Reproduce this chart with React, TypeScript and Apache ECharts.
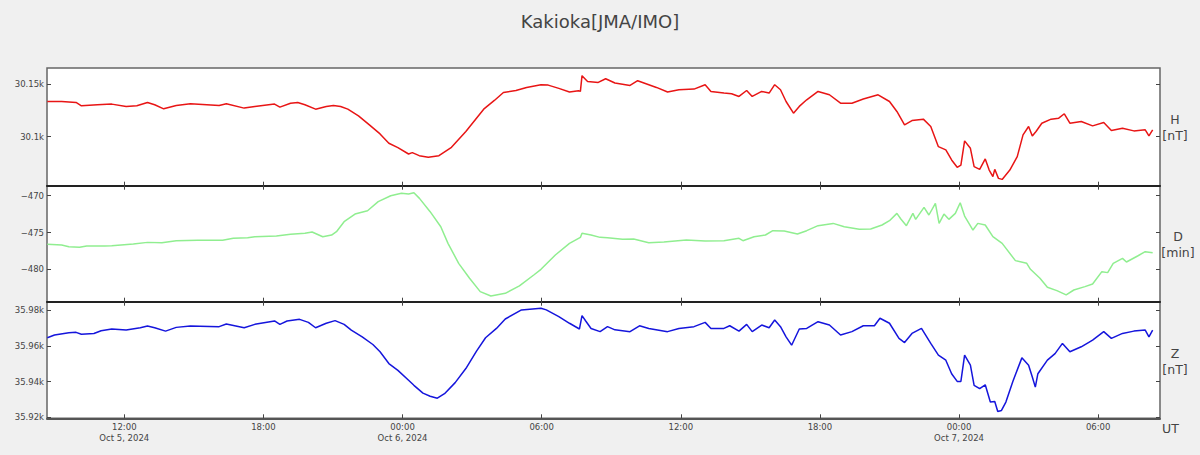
import React, { useEffect, useRef } from "react";
import * as echarts from "echarts";

// Time in hours since 2024-10-05 00:00 UT
const X_MIN = 8.6667;
const X_MAX = 56.6667;
const X_TICKS = [12, 18, 24, 30, 36, 42, 48, 54];

const H_T = [8.68, 9.3, 9.92, 10.15, 10.84, 11.46, 12.08, 12.54, 13.0, 13.31, 13.7, 14.24, 14.85, 16.09, 16.4, 17.17, 17.63, 18.48, 18.71, 19.17, 19.48, 19.79, 20.25, 20.71, 21.02, 21.33, 21.64, 22.1, 22.57, 23.03, 23.41, 23.8, 24.26, 24.42, 24.72, 25.11, 25.57, 26.11, 26.73, 27.5, 27.96, 28.35, 28.89, 29.35, 29.97, 30.28, 30.74, 31.2, 31.59, 31.67, 31.74, 31.98, 32.44, 32.76, 33.16, 33.81, 34.14, 34.62, 34.95, 35.43, 35.92, 36.57, 37.05, 37.3, 37.86, 38.19, 38.51, 38.84, 39.08, 39.49, 39.81, 40.05, 40.3, 40.54, 40.86, 41.11, 41.43, 41.92, 42.41, 42.89, 43.38, 43.87, 44.51, 45.0, 45.32, 45.65, 45.97, 46.46, 46.78, 47.11, 47.43, 47.68, 47.92, 48.08, 48.24, 48.49, 48.65, 48.89, 49.13, 49.3, 49.46, 49.54, 49.7, 49.86, 50.19, 50.51, 50.76, 51.0, 51.16, 51.32, 51.57, 51.97, 52.3, 52.54, 52.78, 53.27, 53.76, 54.24, 54.57, 55.05, 55.54, 56.03, 56.19, 56.35];
const H_V = [30133.4, 30133.4, 30132.5, 30129.3, 30130.3, 30130.9, 30128.7, 30129.3, 30132.5, 30130.3, 30126.4, 30129.6, 30131.2, 30129.6, 30131.2, 30127.1, 30128.7, 30130.9, 30128.0, 30131.8, 30132.5, 30130.3, 30126.1, 30128.7, 30129.6, 30128.7, 30126.1, 30119.7, 30111.1, 30102.5, 30093.6, 30089.5, 30083.4, 30084.7, 30081.8, 30080.2, 30081.8, 30089.8, 30104.8, 30126.1, 30134.4, 30142.0, 30143.9, 30146.8, 30149.4, 30149.0, 30145.9, 30142.4, 30143.6, 30143.0, 30158.0, 30152.5, 30151.6, 30155.1, 30151.0, 30148.7, 30153.2, 30149.4, 30146.8, 30142.4, 30144.6, 30145.2, 30149.4, 30143.0, 30141.4, 30140.8, 30138.2, 30143.9, 30138.2, 30143.0, 30141.4, 30149.4, 30144.6, 30133.4, 30122.3, 30128.7, 30135.0, 30143.0, 30139.8, 30131.8, 30131.8, 30135.7, 30139.8, 30133.4, 30123.9, 30111.1, 30115.2, 30116.6, 30109.6, 30090.4, 30087.3, 30077.7, 30070.7, 30072.9, 30095.9, 30088.8, 30071.3, 30068.8, 30078.7, 30068.1, 30061.8, 30068.8, 30060.2, 30059.2, 30068.1, 30080.9, 30101.6, 30109.6, 30100.6, 30104.8, 30112.7, 30116.6, 30117.5, 30121.7, 30112.7, 30114.3, 30110.2, 30113.4, 30105.7, 30107.9, 30105.4, 30106.4, 30100.6, 30106.4];

const D_T = [8.68, 9.3, 9.61, 10.07, 10.38, 11.15, 11.46, 12.39, 13.0, 13.62, 14.24, 15.16, 16.24, 16.7, 17.32, 17.63, 18.56, 19.17, 19.79, 20.1, 20.56, 20.94, 21.15, 21.48, 21.95, 22.49, 22.95, 23.49, 23.95, 24.26, 24.49, 24.73, 25.19, 25.65, 25.96, 26.42, 26.89, 27.35, 27.81, 28.43, 29.04, 29.66, 29.97, 30.59, 31.2, 31.67, 31.74, 32.13, 32.52, 32.84, 33.49, 33.97, 34.62, 35.27, 36.24, 37.05, 37.86, 38.51, 38.68, 39.16, 39.65, 39.97, 40.46, 41.03, 41.43, 41.92, 42.57, 43.05, 43.7, 44.19, 44.68, 45.0, 45.32, 45.49, 45.73, 46.01, 46.13, 46.49, 46.7, 46.98, 47.14, 47.35, 47.56, 47.84, 48.05, 48.24, 48.6, 48.81, 49.13, 49.46, 49.86, 50.43, 50.92, 51.08, 51.49, 51.81, 52.22, 52.62, 52.95, 53.43, 53.76, 54.16, 54.41, 54.65, 55.05, 55.22, 55.7, 56.03, 56.35];
const D_V = [-476.61, -476.7, -476.92, -477.01, -476.83, -476.83, -476.79, -476.56, -476.34, -476.38, -476.11, -476.06, -476.06, -475.79, -475.7, -475.57, -475.48, -475.25, -475.11, -474.93, -475.57, -475.34, -474.89, -473.53, -472.49, -472.04, -470.81, -470.0, -469.68, -469.77, -469.59, -470.36, -472.17, -474.21, -476.47, -479.19, -481.22, -483.03, -483.62, -483.26, -482.26, -480.77, -480.0, -478.05, -476.47, -475.66, -475.11, -475.34, -475.66, -475.7, -475.93, -475.88, -476.38, -476.29, -476.02, -476.15, -476.11, -475.79, -476.11, -475.57, -475.34, -474.75, -474.79, -475.2, -474.75, -474.07, -473.76, -474.21, -474.57, -474.52, -473.98, -473.39, -472.4, -473.16, -474.07, -472.4, -473.21, -471.58, -472.62, -471.04, -473.76, -472.49, -473.21, -472.4, -470.95, -472.76, -474.66, -473.76, -473.98, -475.57, -476.47, -478.82, -479.19, -480.0, -481.22, -482.44, -482.89, -483.48, -482.81, -482.35, -481.99, -480.32, -480.45, -479.19, -478.51, -479.01, -478.19, -477.6, -477.74];

const Z_T = [8.68, 8.99, 9.61, 9.92, 10.15, 10.69, 11.0, 11.46, 12.08, 12.69, 13.0, 13.31, 13.78, 14.24, 14.85, 16.09, 16.4, 17.17, 17.63, 18.48, 18.71, 19.02, 19.56, 19.94, 20.25, 20.71, 21.09, 21.48, 21.79, 22.26, 22.72, 23.03, 23.41, 23.8, 24.26, 24.49, 24.88, 25.19, 25.5, 25.81, 26.27, 26.73, 27.19, 27.58, 28.05, 28.43, 29.13, 29.97, 30.2, 30.74, 31.2, 31.63, 31.74, 31.9, 32.13, 32.52, 32.84, 33.16, 33.81, 34.22, 34.62, 35.43, 35.92, 36.57, 37.05, 37.3, 37.86, 38.11, 38.51, 38.84, 39.08, 39.49, 39.81, 40.05, 40.3, 40.54, 40.78, 41.11, 41.43, 41.92, 42.41, 42.89, 43.38, 43.87, 44.35, 44.59, 45.0, 45.41, 45.65, 45.97, 46.38, 46.78, 47.11, 47.43, 47.68, 47.92, 48.08, 48.24, 48.49, 48.65, 48.89, 49.13, 49.35, 49.54, 49.67, 49.83, 50.02, 50.32, 50.71, 51.0, 51.16, 51.29, 51.4, 51.81, 52.14, 52.46, 52.78, 53.27, 53.76, 54.24, 54.57, 55.05, 55.54, 56.03, 56.19, 56.35];
const Z_V = [35964.6, 35966.1, 35967.4, 35967.6, 35966.5, 35967.0, 35968.5, 35969.5, 35968.9, 35970.2, 35971.2, 35970.2, 35968.3, 35970.4, 35971.2, 35970.8, 35972.3, 35970.2, 35972.1, 35974.0, 35972.1, 35974.0, 35974.9, 35973.2, 35970.2, 35972.7, 35974.2, 35972.1, 35968.9, 35965.1, 35960.8, 35956.7, 35950.1, 35946.3, 35940.7, 35937.9, 35933.5, 35931.8, 35930.7, 35933.2, 35939.4, 35947.3, 35957.1, 35964.6, 35969.8, 35975.1, 35980.2, 35981.1, 35980.2, 35976.4, 35972.7, 35969.5, 35977.0, 35974.0, 35969.8, 35968.0, 35970.8, 35969.0, 35968.0, 35971.3, 35969.8, 35968.0, 35969.8, 35970.8, 35973.2, 35969.8, 35969.8, 35971.3, 35968.3, 35972.1, 35968.0, 35971.7, 35970.2, 35974.5, 35970.8, 35965.1, 35960.4, 35969.5, 35969.8, 35973.6, 35971.7, 35966.1, 35968.0, 35971.3, 35971.3, 35975.5, 35972.7, 35964.2, 35961.9, 35967.0, 35969.8, 35961.4, 35954.8, 35952.0, 35944.4, 35940.1, 35940.1, 35954.8, 35949.2, 35937.9, 35936.0, 35938.2, 35928.5, 35928.8, 35923.2, 35923.8, 35928.5, 35940.1, 35953.3, 35949.2, 35942.6, 35936.9, 35944.4, 35952.0, 35955.7, 35961.4, 35956.7, 35959.5, 35963.3, 35968.0, 35964.2, 35967.0, 35968.3, 35968.9, 35965.1, 35968.9];

const H_TICKS = [30100, 30150];
const D_TICKS = [-480, -475, -470];
const Z_TICKS = [35920, 35940, 35960, 35980];
const H_RANGE = [30053.2, 30165.3];
const D_RANGE = [-484.4, -468.64];
const Z_RANGE = [35919.4, 35984.8];

const FONT = '"DejaVu Sans", Verdana, sans-serif';
const TXT = "#444";

function zip(t: number[], v: number[]) {
  return t.map((x, i) => [x, v[i]]);
}

function xLabel(v: number) {
  const h = Math.round(v);
  const hh = ((h % 24) + 24) % 24;
  const s = (hh < 10 ? "0" : "") + hh + ":00";
  if (hh === 0 || h === X_TICKS[0]) {
    const day = 5 + Math.floor(h / 24);
    return s + "\nOct " + day + ", 2024";
  }
  return s;
}

export default function App() {
  const ref = useRef<HTMLDivElement>(null);
  useEffect(() => {
    if (!ref.current) return;
    const chart = echarts.init(ref.current, undefined, { renderer: "svg" });
    const grids = [
      { top: 68, height: 117.7 },
      { top: 185.7, height: 116 },
      { top: 301.7, height: 116.6 },
    ];
    const xAxes: any[] = [];
    grids.forEach((_, i) => {
      xAxes.push({
        type: "value",
        gridIndex: i,
        min: X_MIN,
        max: X_MAX,
        position: "bottom",
        axisLine: { show: true, lineStyle: { color: i < 2 ? "#222" : "#555", width: 2 } },
        axisTick: { show: true, inside: true, length: 4, customValues: X_TICKS, lineStyle: { color: "#444" } },
        axisLabel: {
          show: i === 2,
          customValues: X_TICKS,
          formatter: xLabel,
          fontSize: 8.5,
          lineHeight: 11,
          margin: 3,
          color: TXT,
          fontFamily: FONT,
        },
        splitLine: { show: false },
      });
    });
    [1, 2].forEach((i) => {
      xAxes.push({
        type: "value",
        gridIndex: i,
        min: X_MIN,
        max: X_MAX,
        position: "top",
        axisLine: { show: false },
        axisTick: { show: true, inside: true, length: 4, customValues: X_TICKS, lineStyle: { color: "#444" } },
        axisLabel: { show: false },
        splitLine: { show: false },
      });
    });
    const ranges = [H_RANGE, D_RANGE, Z_RANGE];
    const ticks = [H_TICKS, D_TICKS, Z_TICKS];
    const fmts = [
      (v: number) => v / 1000 + "k",
      (v: number) => (v < 0 ? "\u2212" + Math.abs(v) : String(v)),
      (v: number) => v / 1000 + "k",
    ];
    const yAxes: any[] = [];
    grids.forEach((_, i) => {
      yAxes.push({
        type: "value",
        gridIndex: i,
        min: ranges[i][0],
        max: ranges[i][1],
        position: "left",
        axisLine: { show: false },
        axisTick: { show: true, inside: true, length: 4, customValues: ticks[i], lineStyle: { color: "#444" } },
        axisLabel: {
          customValues: ticks[i],
          formatter: fmts[i],
          fontSize: 8.5,
          margin: 3,
          color: TXT,
          fontFamily: FONT,
        },
        splitLine: { show: false },
      });
      yAxes.push({
        type: "value",
        gridIndex: i,
        min: ranges[i][0],
        max: ranges[i][1],
        position: "right",
        axisLine: { show: false },
        axisTick: { show: true, inside: true, length: 4, customValues: ticks[i], lineStyle: { color: "#444" } },
        axisLabel: { show: false },
        splitLine: { show: false },
      });
    });
    const mk = (name: string, data: number[][], i: number, color: string) => ({
      name,
      type: "line",
      xAxisIndex: i,
      yAxisIndex: i * 2,
      data,
      showSymbol: false,
      symbol: "none",
      lineStyle: { color, width: 1.5 },
      z: 3,
    });
    const option: any = {
      animation: false,
      backgroundColor: "#f0f0f0",
      title: {
        text: "Kakioka[JMA/IMO]",
        left: "center",
        top: 7,
        textStyle: { fontSize: 18, fontWeight: "normal", color: TXT, fontFamily: FONT },
      },
      grid: grids.map((g) => ({
        left: 47,
        right: 40,
        top: g.top,
        height: g.height,
        show: true,
        backgroundColor: "#ffffff",
        borderColor: "#666",
        borderWidth: 1.5,
      })),
      xAxis: xAxes,
      yAxis: yAxes,
      series: [
        mk("H", zip(H_T, H_V), 0, "#e81515"),
        mk("D", zip(D_T, D_V), 1, "#90ee90"),
        mk("Z", zip(Z_T, Z_V), 2, "#1515dc"),
      ],
      graphic: [
        { type: "text", x: 1175, y: 127, style: { text: "H\n[nT]", font: "12.5px " + FONT, fill: TXT, textAlign: "center", textVerticalAlign: "middle", lineHeight: 16 } },
        { type: "text", x: 1178, y: 244.7, style: { text: "D\n[min]", font: "12.5px " + FONT, fill: TXT, textAlign: "center", textVerticalAlign: "middle", lineHeight: 16 } },
        { type: "text", x: 1175, y: 361, style: { text: "Z\n[nT]", font: "12.5px " + FONT, fill: TXT, textAlign: "center", textVerticalAlign: "middle", lineHeight: 16 } },
        { type: "text", x: 1162, y: 428.3, style: { text: "UT", font: "12.5px " + FONT, fill: TXT, textAlign: "left", textVerticalAlign: "middle" } },
      ],
    };
    chart.setOption(option);
    return () => chart.dispose();
  }, []);
  return (
    <div
      ref={ref}
      style={{ position: "fixed", left: 0, top: 0, width: 1200, height: 455 }}
    />
  );
}
